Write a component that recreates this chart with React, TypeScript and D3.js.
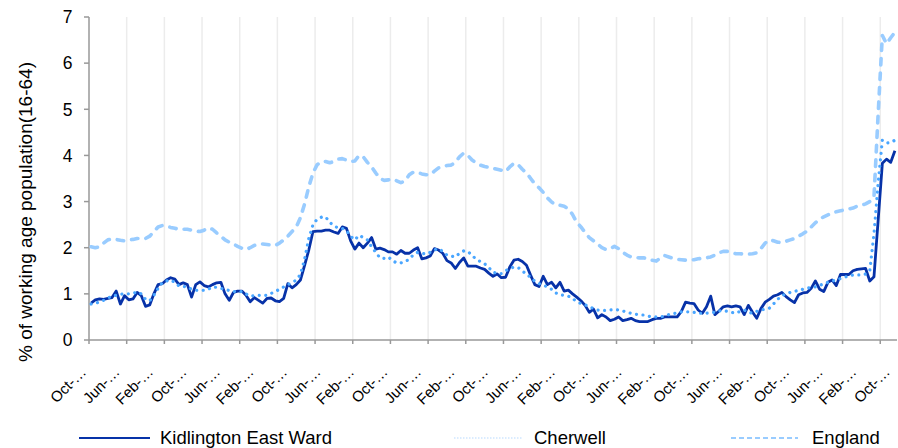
import React from "react";
import * as d3 from "d3";

// Monthly categories Oct 2004 .. Oct 2020
const startMonth = new Date(2004, 9, 1);
const endMonthExclusive = new Date(2020, 10, 1);
const categories: Date[] = d3.timeMonths(startMonth, endMonthExclusive);

const yTicks = [0, 1, 2, 3, 4, 5, 6, 7];

const kidlington = [
  0.8, 0.87, 0.89, 0.88, 0.9, 0.92, 1.06, 0.78, 0.96, 0.87,
  0.89, 1.03, 0.96, 0.73, 0.76, 1.0, 1.2, 1.22, 1.3, 1.35,
  1.32, 1.2, 1.24, 1.2, 0.93, 1.2, 1.26, 1.18, 1.15, 1.2,
  1.24, 1.25, 1.0, 0.86, 1.03, 1.06, 1.06, 0.97, 0.83, 0.92,
  0.86, 0.8, 0.9, 0.91, 0.85, 0.83, 0.9, 1.22, 1.13, 1.2,
  1.3, 1.62, 1.95, 2.35, 2.36, 2.36, 2.38, 2.38, 2.34, 2.31,
  2.45, 2.42, 2.15, 1.97, 2.1, 2.0, 2.1, 2.22, 1.97, 1.99,
  1.96, 1.91, 1.91, 1.86, 1.94, 1.88, 1.88, 1.95, 2.0, 1.76,
  1.78, 1.82, 1.98, 1.95, 1.88, 1.72, 1.67, 1.55, 1.68, 1.78,
  1.6, 1.6, 1.6, 1.56, 1.53, 1.45, 1.38, 1.43, 1.35, 1.36,
  1.58, 1.73, 1.75, 1.7, 1.62, 1.4, 1.2, 1.16, 1.38, 1.2,
  1.25, 1.13, 1.25, 1.06, 1.08, 1.0, 0.93, 0.85, 0.75, 0.6,
  0.67, 0.48, 0.55, 0.5, 0.42, 0.45, 0.5, 0.42, 0.44, 0.47,
  0.42, 0.4, 0.4, 0.4, 0.44, 0.47, 0.47, 0.5, 0.5, 0.5,
  0.5, 0.62, 0.82, 0.8, 0.79, 0.65, 0.58, 0.72, 0.95, 0.55,
  0.63, 0.72, 0.74, 0.72, 0.74, 0.72, 0.55, 0.75, 0.6, 0.47,
  0.68, 0.82, 0.88, 0.95, 0.98, 1.03, 0.94, 0.87, 0.81, 0.98,
  1.02, 1.03, 1.12, 1.28, 1.1, 1.05, 1.25, 1.3, 1.18, 1.42,
  1.42, 1.42, 1.5, 1.53, 1.54, 1.55, 1.28, 1.37, 2.6, 3.83,
  3.92, 3.85, 4.1,
];

const cherwell = [
  0.78, 0.8, 0.82, 0.86, 0.91, 0.95, 0.97, 0.99, 1.0, 1.0,
  1.01, 1.04, 1.0, 0.88, 0.85, 0.97, 1.12, 1.24, 1.28, 1.3,
  1.25, 1.17, 1.16, 1.15, 1.1, 1.08, 1.07, 1.08, 1.1, 1.15,
  1.14, 1.12, 1.1, 1.07, 1.05, 1.04, 1.05, 1.0, 0.95, 0.96,
  0.97, 0.96, 0.97, 1.01, 1.05, 1.1, 1.15, 1.2, 1.24, 1.3,
  1.42, 1.75, 2.2, 2.5, 2.62, 2.66, 2.67, 2.55, 2.47, 2.43,
  2.42, 2.37, 2.25, 2.17, 2.27, 2.22, 2.17, 2.02, 1.9, 1.78,
  1.77, 1.8, 1.72, 1.67, 1.67, 1.7, 1.75, 1.85, 1.9, 1.88,
  1.86, 1.9, 1.95, 1.98, 1.92, 1.84, 1.82, 1.8, 1.88, 1.93,
  1.92, 1.83, 1.75, 1.7, 1.65, 1.57, 1.47, 1.44, 1.44, 1.5,
  1.55, 1.58, 1.57, 1.5, 1.42, 1.36, 1.27, 1.22, 1.19, 1.15,
  1.1, 1.02, 0.98, 0.97, 0.95, 0.9, 0.83, 0.79, 0.76, 0.73,
  0.68, 0.65, 0.64, 0.64, 0.65, 0.66, 0.65, 0.63, 0.6, 0.58,
  0.56, 0.55, 0.54, 0.52, 0.5, 0.5, 0.5, 0.52, 0.55, 0.57,
  0.59, 0.61, 0.61, 0.61, 0.6, 0.58, 0.58, 0.58, 0.59, 0.6,
  0.63, 0.64, 0.62, 0.6, 0.58, 0.62, 0.65, 0.6, 0.58, 0.62,
  0.65, 0.67, 0.69, 0.78, 0.88, 0.96, 1.0, 1.03, 1.05, 1.08,
  1.1, 1.12, 1.14, 1.15, 1.18, 1.22, 1.25, 1.28, 1.3, 1.33,
  1.36, 1.39, 1.41, 1.41, 1.41, 1.43, 1.5, 2.3, 3.4, 4.33,
  4.27, 4.28, 4.33,
];

const england = [
  2.02, 2.0, 2.02, 2.1, 2.17, 2.19, 2.18, 2.16, 2.15, 2.17,
  2.18, 2.2, 2.2, 2.2, 2.25, 2.35, 2.45, 2.48, 2.47, 2.44,
  2.42, 2.4, 2.4, 2.4, 2.38, 2.36, 2.35, 2.38, 2.43, 2.4,
  2.32, 2.25, 2.17, 2.12, 2.08, 2.03, 1.99, 1.96, 2.0, 2.05,
  2.08, 2.08, 2.07, 2.06, 2.05, 2.1, 2.17, 2.25, 2.35, 2.45,
  2.65, 2.95, 3.32, 3.62, 3.8, 3.86, 3.87, 3.84, 3.87, 3.92,
  3.93, 3.9, 3.87, 3.88, 4.0, 3.97, 3.85, 3.75, 3.62, 3.5,
  3.46, 3.47, 3.49, 3.45, 3.41, 3.45, 3.58, 3.64, 3.63, 3.6,
  3.58, 3.58, 3.66, 3.73, 3.76, 3.78, 3.79, 3.85, 3.97, 4.05,
  4.0, 3.9, 3.84, 3.79, 3.76, 3.74, 3.72, 3.7, 3.68, 3.65,
  3.75, 3.83, 3.8, 3.7, 3.62, 3.5, 3.38, 3.3, 3.2, 3.08,
  2.99, 2.93, 2.92, 2.9, 2.84, 2.72, 2.55, 2.45, 2.33, 2.22,
  2.15, 2.08, 2.0, 1.96, 1.98, 2.03, 1.98, 1.9, 1.84, 1.8,
  1.79, 1.78, 1.78, 1.76, 1.73, 1.71, 1.78, 1.83, 1.8, 1.77,
  1.75, 1.74, 1.73, 1.73, 1.74, 1.76, 1.77, 1.78, 1.8, 1.84,
  1.89, 1.92, 1.92, 1.89, 1.87, 1.87, 1.86, 1.86, 1.87, 1.89,
  1.98, 2.1, 2.17, 2.15, 2.12, 2.11, 2.14, 2.17, 2.2, 2.25,
  2.3, 2.36, 2.45, 2.54, 2.62, 2.67, 2.71, 2.75, 2.78, 2.8,
  2.82, 2.84, 2.86, 2.9, 2.92, 2.95, 3.0, 3.1, 4.9, 6.6,
  6.42, 6.55, 6.67,
];

const seriesNames = ["Kidlington East Ward", "Cherwell", "England"];

const W = 898;
const H = 448;
const left = 89;
const right = 897;
const top = 17;
const bottom = 340;
const FONT = "'Liberation Sans', Arial, sans-serif";

export default function App() {
  const idx = categories.map((_, i) => i);
  const x = d3.scaleBand<number>().domain(idx).range([left, right]).padding(0);
  const bw = x.bandwidth();
  const cx = (i: number) => (x(i) as number) + bw / 2;
  const y = d3.scaleLinear().domain([0, 7]).range([bottom, top]);

  const line = d3
    .line<number>()
    .x((_, i) => cx(i))
    .y((d) => y(d));

  const tickEvery = 9;
  const tickIdx = idx.filter((i) => i % tickEvery === 0);
  const labelIdx = idx.filter((i) => i % 8 === 0);
  const monthFmt = d3.timeFormat("%b");

  const darkBlue = "#0732a8";
  const midBlue = "#4aa6ff";
  const lightBlue = "#99ccff";

  return (
    <svg
      width={W}
      height={H}
      style={{ position: "absolute", left: 0, top: 0, background: "#fff" }}
      fontFamily={FONT}
    >
      {/* vertical gridlines */}
      {tickIdx.map((i) =>
        i === 0 ? null : (
          <line
            key={"g" + i}
            x1={x(i) as number}
            x2={x(i) as number}
            y1={top}
            y2={bottom}
            stroke="#ececec"
            strokeWidth={1.5}
          />
        )
      )}
      {/* y axis */}
      <line x1={left} x2={left} y1={top} y2={bottom} stroke="#999" strokeWidth={1.5} />
      {yTicks.map((t) => (
        <g key={"y" + t}>
          <line x1={left - 5} x2={left} y1={y(t)} y2={y(t)} stroke="#999" strokeWidth={1.5} />
          <text x={72.5} y={y(t)} dy="0.36em" textAnchor="end" fontSize={17.5} fill="#000">
            {t}
          </text>
        </g>
      ))}
      {/* x axis */}
      <line x1={left} x2={right} y1={bottom} y2={bottom} stroke="#999" strokeWidth={1.5} />
      {tickIdx.map((i) => (
        <line
          key={"xt" + i}
          x1={x(i) as number}
          x2={x(i) as number}
          y1={bottom}
          y2={bottom + 4}
          stroke="#999"
          strokeWidth={1.5}
        />
      ))}
      {labelIdx.map((i) => {
        const px = cx(i) - 4;
        const py = 373;
        return (
          <text
            key={"xl" + i}
            x={px}
            y={py}
            textAnchor="end"
            fontSize={15}
            fill="#000"
            transform={`rotate(-45 ${px} ${py})`}
          >
            {monthFmt(categories[i]) + "-\u2026"}
          </text>
        );
      })}
      {/* y title */}
      <text
        transform="translate(32 212) rotate(-90)"
        textAnchor="middle"
        fontSize={19}
        fill="#000"
      >
        % of working age population(16-64)
      </text>

      {/* series */}
      <path d={line(kidlington) || ""} fill="none" stroke={darkBlue} strokeWidth={2.8} strokeLinejoin="round" />
      <path
        d={line(cherwell) || ""}
        fill="none"
        stroke={midBlue}
        strokeWidth={3.2}
        strokeDasharray="0.01 6.5"
        strokeLinecap="round"
      />
      <path
        d={line(england) || ""}
        fill="none"
        stroke={lightBlue}
        strokeWidth={3.6}
        strokeDasharray="6.5 8"
        strokeLinecap="round"
        strokeLinejoin="round"
      />

      {/* legend */}
      <line x1={79} x2={150} y1={438} y2={438} stroke={darkBlue} strokeWidth={2} />
      <text x={160} y={444} fontSize={18.5} fill="#000">{seriesNames[0]}</text>
      <line
        x1={454}
        x2={523}
        y1={438}
        y2={438}
        stroke="#cfe6ff"
        strokeWidth={1.5}
        strokeDasharray="1.5 1.5"
      />
      <text x={534} y={444} fontSize={18.5} fill="#000">{seriesNames[1]}</text>
      <line
        x1={731}
        x2={798}
        y1={438}
        y2={438}
        stroke={lightBlue}
        strokeWidth={2}
        strokeDasharray="5 3"
      />
      <text x={812} y={444} fontSize={18.5} fill="#000">{seriesNames[2]}</text>
    </svg>
  );
}
